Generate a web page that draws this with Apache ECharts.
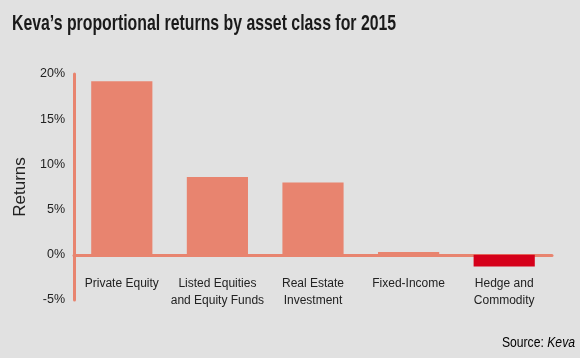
<!DOCTYPE html>
<html><head><meta charset="utf-8">
<script src="https://cdn.jsdelivr.net/npm/echarts@6/dist/echarts.min.js"></script>
<style>html,body{margin:0;padding:0;background:#e1e1e1}#c{width:580px;height:358px}</style>
</head><body><div id="c"></div>
<script>
const categories = ['Private Equity', 'Listed Equities\nand Equity Funds', 'Real Estate\nInvestment', 'Fixed-Income', 'Hedge and\nCommodity'];
const returns = [19.2, 8.6, 8.0, 0.3, -1.3];
const yTicks = [-5, 0, 5, 10, 15, 20];

const salmon = '#e8846f';
const red = '#d5001a';
const font = '"Liberation Sans", Arial, sans-serif';

const chart = echarts.init(document.getElementById('c'));
chart.setOption({
  backgroundColor: '#e1e1e1',
  animation: false,
  graphic: [{
    type: 'text',
    x: 12, y: 13,
    scaleX: 0.72,
    style: {
      text: 'Keva\u2019s proportional returns by asset class for 2015',
      font: 'bold 22px ' + font,
      fill: '#1a1a1a',
      textVerticalAlign: 'top'
    }
  }, {
    type: 'text',
    x: 575, y: 343,
    scaleX: 0.87,
    style: {
      text: '{a|Source: }{b|Keva}',
      textAlign: 'right',
      textVerticalAlign: 'middle',
      rich: {
        a: { fontFamily: font, fontSize: 14, color: '#444' },
        b: { fontFamily: font, fontSize: 14, color: '#444', fontStyle: 'italic' }
      }
    }
  }],
  grid: { left: 74, right: 28, top: 74, bottom: 58 },
  xAxis: {
    type: 'category',
    data: categories,
    axisLine: { onZero: true, lineStyle: { color: salmon, width: 3 } },
    axisTick: { show: false },
    axisLabel: { margin: -25, fontFamily: font, fontSize: 12, color: '#222', lineHeight: 17, interval: 0 }
  },
  yAxis: {
    type: 'value',
    min: yTicks[0], max: yTicks[yTicks.length - 1], interval: 5,
    name: 'Returns',
    nameLocation: 'middle',
    nameGap: 41,
    nameTextStyle: { fontFamily: font, fontSize: 17, color: '#222' },
    axisLine: { show: true, lineStyle: { color: salmon, width: 3 } },
    axisTick: { show: false },
    splitLine: { show: false },
    axisLabel: { formatter: '{value}%', fontFamily: font, fontSize: 12.5, color: '#222', margin: 9 }
  },
  series: [{
    type: 'bar',
    barWidth: '64%',
    data: returns.map(v => ({ value: v, itemStyle: { color: v < 0 ? red : salmon } }))
  }]
});
</script></body></html>
